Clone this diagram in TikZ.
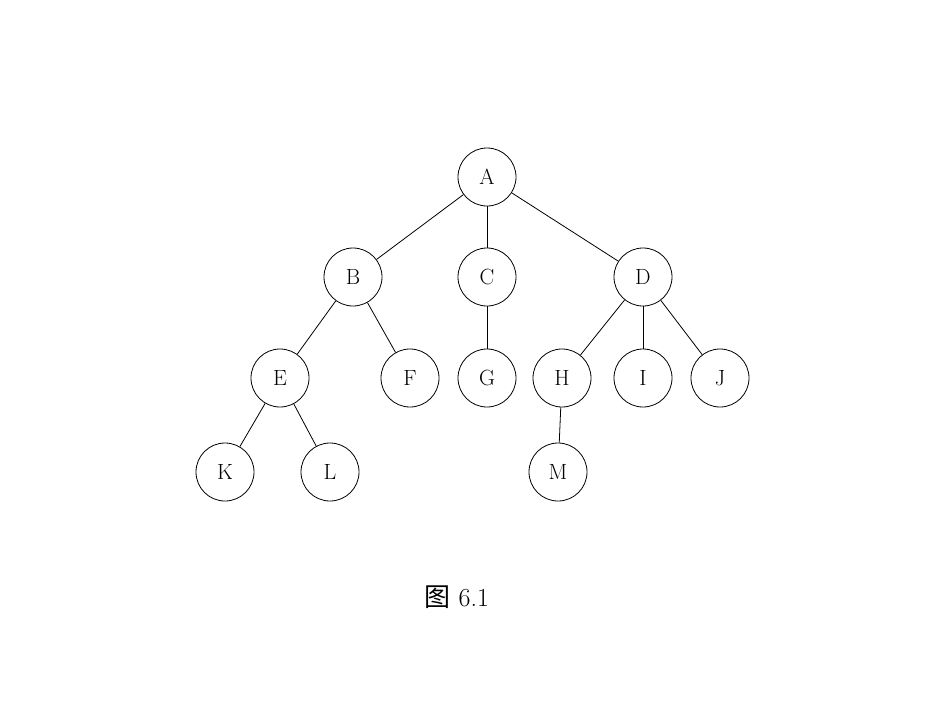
\documentclass[tikz,border=0pt]{standalone}
\usepackage{fontspec}
\newfontfamily\cjk{Noto Sans CJK SC}
\begin{document}
\begin{tikzpicture}[x=1pt,y=-1pt,
  tn/.style={circle,draw,thick,minimum size=58pt,inner sep=0pt,font=\fontsize{22}{24}\selectfont}]
\useasboundingbox (0,0) rectangle (950,713);
\node[tn] (A) at (487,177) {A};
\node[tn] (B) at (353,277) {B};
\node[tn] (C) at (487,277) {C};
\node[tn] (D) at (643,277) {D};
\node[tn] (E) at (280,378) {E};
\node[tn] (F) at (410,378) {F};
\node[tn] (G) at (487,378) {G};
\node[tn] (H) at (562,378) {H};
\node[tn] (I) at (643,378) {I};
\node[tn] (J) at (720,378) {J};
\node[tn] (K) at (225,472) {K};
\node[tn] (L) at (330,472) {L};
\node[tn] (M) at (558,472) {M};
\foreach \a/\b in {A/B,A/C,A/D,B/E,B/F,C/G,D/H,D/I,D/J,E/K,E/L,H/M}
  \draw[thick] (\a) -- (\b);
\node (cap) at (457,597) {\fontsize{26}{28}\selectfont{\cjk 图} 6.1};
\end{tikzpicture}
\end{document}
